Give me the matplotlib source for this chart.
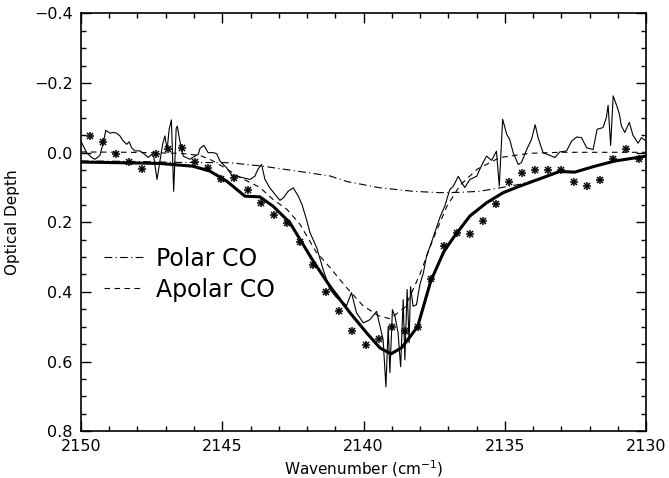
import numpy as np
import matplotlib
matplotlib.use('Agg')
import matplotlib.pyplot as plt
from matplotlib.ticker import MultipleLocator

# observed spectrum (wavenumber, optical depth)
obs_wn = [2150.00, 2149.80, 2149.62, 2149.50, 2149.33, 2149.21, 2149.12, 2148.97, 2148.86, 2148.74,
          2148.62, 2148.50, 2148.38, 2148.29, 2148.21, 2148.09, 2147.91, 2147.74, 2147.62, 2147.50,
          2147.42, 2147.31, 2147.21, 2147.11, 2147.03, 2146.95, 2146.88, 2146.80, 2146.72, 2146.63,
          2146.59, 2146.50, 2146.38, 2146.15, 2145.97, 2145.85, 2145.79, 2145.65, 2145.50, 2145.32,
          2145.20, 2145.08, 2144.97, 2144.85, 2144.67, 2144.52, 2144.32, 2144.02, 2143.85, 2143.74,
          2143.61, 2143.49, 2143.32, 2143.08, 2142.96, 2142.84, 2142.67, 2142.49, 2142.31, 2142.18,
          2142.02, 2141.90, 2141.66, 2141.43, 2141.19, 2140.96, 2140.60, 2140.43, 2140.25, 2140.01,
          2139.78, 2139.54, 2139.42, 2139.31, 2139.21, 2139.13, 2139.07, 2138.98, 2138.89, 2138.78,
          2138.69, 2138.60, 2138.54, 2138.46, 2138.39, 2138.34, 2138.25, 2138.13, 2138.01, 2137.89,
          2137.77, 2137.60, 2137.42, 2137.30, 2137.13, 2136.95, 2136.83, 2136.65, 2136.53, 2136.42,
          2136.24, 2136.00, 2135.89, 2135.77, 2135.65, 2135.47, 2135.30, 2135.20, 2135.08, 2134.94,
          2134.83, 2134.71, 2134.53, 2134.41, 2134.24, 2134.06, 2133.93, 2133.82, 2133.65, 2133.41,
          2133.23, 2133.06, 2132.82, 2132.64, 2132.46, 2132.29, 2132.11, 2131.88, 2131.74, 2131.53,
          2131.41, 2131.35, 2131.26, 2131.17, 2131.04, 2130.95, 2130.88, 2130.76, 2130.60, 2130.47,
          2130.29, 2130.17, 2130.00]
obs_tau = [-0.033, 0.000, 0.014, 0.019, 0.008, -0.029, -0.064, -0.056, -0.058, -0.056,
           -0.048, -0.033, -0.024, -0.031, -0.014, -0.005, -0.005, 0.005, 0.014, 0.005,
           0.014, 0.077, 0.026, -0.024, -0.048, -0.009, -0.067, -0.094, 0.111, -0.070,
           -0.076, -0.033, 0.010, 0.019, 0.010, 0.005, -0.012, -0.021, 0.000, 0.000,
           0.003, 0.024, 0.034, 0.043, 0.064, 0.067, 0.071, 0.077, 0.068, 0.048,
           0.034, 0.077, 0.101, 0.125, 0.137, 0.130, 0.111, 0.101, 0.125, 0.149,
           0.192, 0.229, 0.273, 0.336, 0.393, 0.416, 0.439, 0.402, 0.460, 0.489,
           0.480, 0.456, 0.499, 0.537, 0.673, 0.499, 0.632, 0.451, 0.470, 0.518,
           0.615, 0.422, 0.595, 0.393, 0.546, 0.385, 0.441, 0.437, 0.379, 0.347,
           0.296, 0.258, 0.215, 0.186, 0.154, 0.106, 0.097, 0.068, 0.086, 0.100,
           0.077, 0.068, 0.048, 0.028, 0.010, 0.022, -0.004, 0.096, -0.096, -0.053,
           -0.038, 0.000, 0.034, 0.028, -0.007, -0.038, -0.080, -0.041, 0.000, 0.008,
           0.014, -0.002, -0.005, -0.033, -0.045, -0.043, -0.014, -0.009, -0.067, -0.072,
           -0.101, -0.136, -0.021, -0.163, -0.134, -0.110, -0.077, -0.058, -0.087, -0.050,
           -0.027, -0.043, -0.033]

# total model fit
fit_wn = [2150.00, 2147.21, 2146.04, 2145.44, 2144.84, 2144.20, 2143.67, 2143.20, 2142.61, 2141.78,
          2141.19, 2140.48, 2139.89, 2139.42, 2139.03, 2138.65, 2138.09, 2137.62, 2137.16, 2136.83,
          2136.24, 2135.65, 2135.06, 2134.47, 2133.76, 2133.06, 2132.53, 2131.82, 2131.11, 2130.00]
fit_tau = [0.027, 0.031, 0.039, 0.053, 0.082, 0.125, 0.127, 0.154, 0.201, 0.312,
           0.384, 0.460, 0.518, 0.561, 0.578, 0.560, 0.500, 0.368, 0.284, 0.245,
           0.182, 0.144, 0.115, 0.096, 0.075, 0.054, 0.056, 0.039, 0.024, 0.010]

# apolar CO component
apolar_wn = [2150.00, 2148.27, 2146.50, 2145.79, 2145.37, 2144.94, 2144.38, 2143.67, 2143.21, 2142.71,
             2142.25, 2141.69, 2141.19, 2140.63, 2140.03, 2139.49, 2139.07, 2138.54, 2138.01, 2137.55,
             2137.06, 2136.59, 2135.99, 2135.18, 2134.12, 2133.06, 2130.00]
apolar_tau = [-0.002, -0.001, 0.002, 0.008, 0.022, 0.042, 0.071, 0.100, 0.134, 0.163,
              0.206, 0.284, 0.330, 0.385, 0.439, 0.468, 0.477, 0.445, 0.350, 0.250,
              0.155, 0.094, 0.048, 0.014, 0.002, -0.001, -0.001]

# polar CO component
polar_wn = [2150.00, 2148.27, 2146.50, 2144.73, 2143.56, 2142.36, 2141.19, 2140.59, 2139.42, 2138.26,
            2137.30, 2136.59, 2135.89, 2135.18, 2134.47, 2133.87, 2133.06, 2132.53, 2131.82, 2131.11,
            2130.00]
polar_tau = [0.024, 0.025, 0.028, 0.029, 0.039, 0.053, 0.067, 0.083, 0.101, 0.111,
             0.115, 0.114, 0.111, 0.101, 0.091, 0.077, 0.054, 0.056, 0.039, 0.024,
             0.010]

# comparison points (asterisks)
pts_wn = [2149.68, 2149.23, 2148.76, 2148.30, 2147.83, 2147.36, 2146.91, 2146.42, 2145.97, 2145.50,
          2145.04, 2144.58, 2144.10, 2143.64, 2143.18, 2142.71, 2142.24, 2141.78, 2141.32, 2140.86,
          2140.40, 2139.93, 2139.47, 2139.01, 2138.54, 2138.09, 2137.61, 2137.16, 2136.69, 2136.24,
          2135.77, 2135.31, 2134.85, 2134.39, 2133.93, 2133.47, 2133.01, 2132.55, 2132.09, 2131.63,
          2131.17, 2130.72, 2130.26]
pts_tau = [-0.048, -0.031, 0.003, 0.028, 0.047, 0.003, -0.010, -0.013, 0.027, 0.045,
           0.077, 0.073, 0.107, 0.146, 0.178, 0.203, 0.256, 0.324, 0.401, 0.455,
           0.511, 0.553, 0.534, 0.501, 0.511, 0.501, 0.362, 0.269, 0.230, 0.235,
           0.197, 0.147, 0.083, 0.059, 0.050, 0.049, 0.051, 0.085, 0.096, 0.078,
           0.019, -0.010, 0.018]

plt.rcParams['font.family'] = ['DejaVu Sans']
fig = plt.figure(figsize=(6.69, 4.78), dpi=100)
ax = fig.add_axes([0.121, 0.098, 0.845, 0.874])

ax.plot(obs_wn, obs_tau, color='black', lw=0.8)
ax.plot(fit_wn, fit_tau, color='black', lw=2.2)
ax.plot(polar_wn, polar_tau, color='black', lw=0.8, dashes=(7, 3, 1, 3), label='Polar CO')
ax.plot(apolar_wn, apolar_tau, color='black', lw=0.8, dashes=(5, 4), label='Apolar CO')
ax.plot(pts_wn, pts_tau, ls='none', marker='+', ms=5.5, mew=1.1, color='black')
ax.plot(pts_wn, pts_tau, ls='none', marker='x', ms=4.2, mew=1.1, color='black')

ax.set_xlim(2150, 2130)
ax.set_ylim(0.8, -0.4)
ax.xaxis.set_major_locator(MultipleLocator(5))
ax.xaxis.set_minor_locator(MultipleLocator(1))
ax.yaxis.set_major_locator(MultipleLocator(0.2))
ax.yaxis.set_minor_locator(MultipleLocator(0.05))
ax.yaxis.set_major_formatter(plt.FuncFormatter(lambda v, p: f'{v:.1f}'.replace('-', '\u2212')))

ax.tick_params(which='both', direction='in', top=True, right=True, labelsize=11.5, width=1)
ax.tick_params(which='major', length=7.5, pad=6)
ax.tick_params(which='minor', length=3.8)
for s in ax.spines.values():
    s.set_linewidth(1.2)

ax.set_xlabel('Wavenumber (cm$^{-1}$)', fontsize=11, labelpad=3)
ax.set_ylabel('Optical Depth', fontsize=11, labelpad=10)

ax.legend(loc='center left', bbox_to_anchor=(0.04, 0.376), frameon=False, fontsize=17,
          handlelength=1.7, handletextpad=0.5, labelspacing=0.3, borderpad=0, borderaxespad=0)

fig.savefig('out.png', dpi=100)
